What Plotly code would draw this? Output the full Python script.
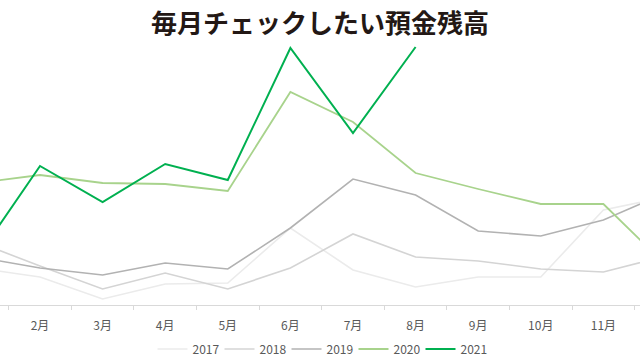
import plotly.graph_objects as go

months = ["1月", "2月", "3月", "4月", "5月", "6月", "7月", "8月", "9月", "10月", "11月", "12月"]
s2017 = [37, 28, 6, 21, 22, 77, 35, 18, 28, 28, 95, 108]
s2018 = [63, 39, 16, 32, 16, 37, 71, 48, 44, 36, 33, 49]
s2019 = [48, 37, 30, 42, 36, 77, 126, 110, 74, 69, 85, 112]
s2020 = [122, 130, 122, 121, 114, 213, 183, 132, 116, 101, 101, 40]
s2021 = [48, 139, 103, 141, 125, 257, 172, 258]

series = [
    ("2017", s2017, "#ebebeb", 1.6),
    ("2018", s2018, "#d4d4d4", 1.6),
    ("2019", s2019, "#b2b2b2", 1.6),
    ("2020", s2020, "#a8d38c", 1.8),
    ("2021", s2021, "#00b050", 2.0),
]

fig = go.Figure()
for name, vals, color, w in series:
    fig.add_trace(go.Scatter(
        x=months[:len(vals)], y=vals, name=name, mode="lines",
        line=dict(color=color, width=w),
    ))

fig.update_layout(
    width=640, height=360,
    margin=dict(l=0, r=0, t=45, b=55, autoexpand=False),
    paper_bgcolor="white", plot_bgcolor="white",
    title=dict(
        text="<b>毎月チェックしたい預金残高</b>",
        x=0.5, xanchor="center", xref="paper",
        y=(360 - 24) / 360, yanchor="middle", yref="container",
        font=dict(family="Noto Sans CJK JP", size=26, color="#231815", weight=900),
    ),
    font=dict(family="Noto Sans CJK JP", color="#595959"),
    showlegend=True,
    legend=dict(
        orientation="h", x=0.5, xanchor="center", xref="container",
        y=(360 - 349) / 360, yanchor="middle", yref="container",
        font=dict(size=12, color="#595959"),
        itemwidth=30, entrywidth=22, entrywidthmode="pixels",
        bgcolor="rgba(0,0,0,0)",
    ),
    xaxis=dict(
        type="category", categoryorder="array", categoryarray=months,
        range=[0.361, 10.585],
        showline=True, linecolor="#d9d9d9", linewidth=1,
        ticks="outside", tickson="boundaries", ticklen=4, tickcolor="#d9d9d9",
        showgrid=False, zeroline=False,
        tickfont=dict(size=12, color="#595959"),
        ticklabelstandoff=10,
    ),
    yaxis=dict(
        range=[0, 260], visible=False, showgrid=False, zeroline=False,
    ),
)

fig.write_html(
    "out.html",
    config={"displayModeBar": False},
    post_script="document.body.style.margin='0';document.body.style.overflow='hidden';",
)
